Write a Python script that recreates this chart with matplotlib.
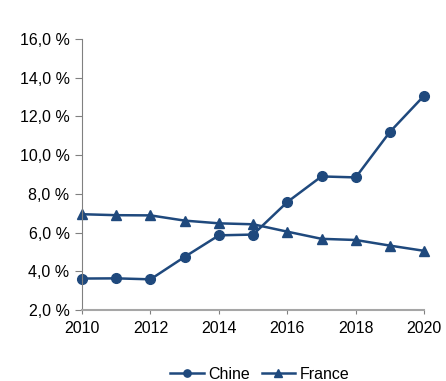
import matplotlib
matplotlib.use("Agg")
from matplotlib import pyplot as plt
from matplotlib.ticker import FuncFormatter

plt.rcParams['font.family'] = ['Liberation Sans', 'DejaVu Sans']

years = [2010, 2011, 2012, 2013, 2014, 2015, 2016, 2017, 2018, 2019, 2020]
chine = [3.63, 3.64, 3.59, 4.75, 5.86, 5.90, 7.58, 8.90, 8.85, 11.20, 13.07]
france = [6.95, 6.90, 6.89, 6.62, 6.48, 6.43, 6.05, 5.68, 5.62, 5.33, 5.06]

color = '#1f497d'

fig = plt.figure(figsize=(4.46, 3.81), dpi=100)
ax = fig.add_axes([0.184, 0.186, 0.767, 0.712])

ax.plot(years, chine, color=color, lw=1.8, marker='o', ms=7, label='Chine')
ax.plot(years, france, color=color, lw=1.8, marker='^', ms=7, label='France')

ax.set_xlim(2010, 2020)
ax.set_ylim(2, 16)
ax.set_xticks(range(2010, 2021, 2))
ax.set_yticks(range(2, 17, 2))
ax.yaxis.set_major_formatter(FuncFormatter(lambda v, p: f'{v:.1f}'.replace('.', ',') + ' %'))

for s in ['top', 'right']:
    ax.spines[s].set_visible(False)
ax.spines['left'].set_color('#808080')
ax.spines['bottom'].set_color('#a6a6a6')
ax.spines['bottom'].set_linewidth(1.5)
ax.tick_params(axis='y', length=5, color='#808080', labelsize=11.5, pad=4)
ax.tick_params(axis='x', length=3, color='#808080', labelsize=11.5, pad=5)
for c in ax.lines:
    c.set_clip_on(False)

ax.legend(loc='upper center', bbox_to_anchor=(0.52, -0.155), ncol=2, frameon=False,
          fontsize=11.5, handlelength=2.1, handletextpad=0.3, columnspacing=0.7,
          markerscale=0.75)

fig.savefig('out.png', dpi=100)
